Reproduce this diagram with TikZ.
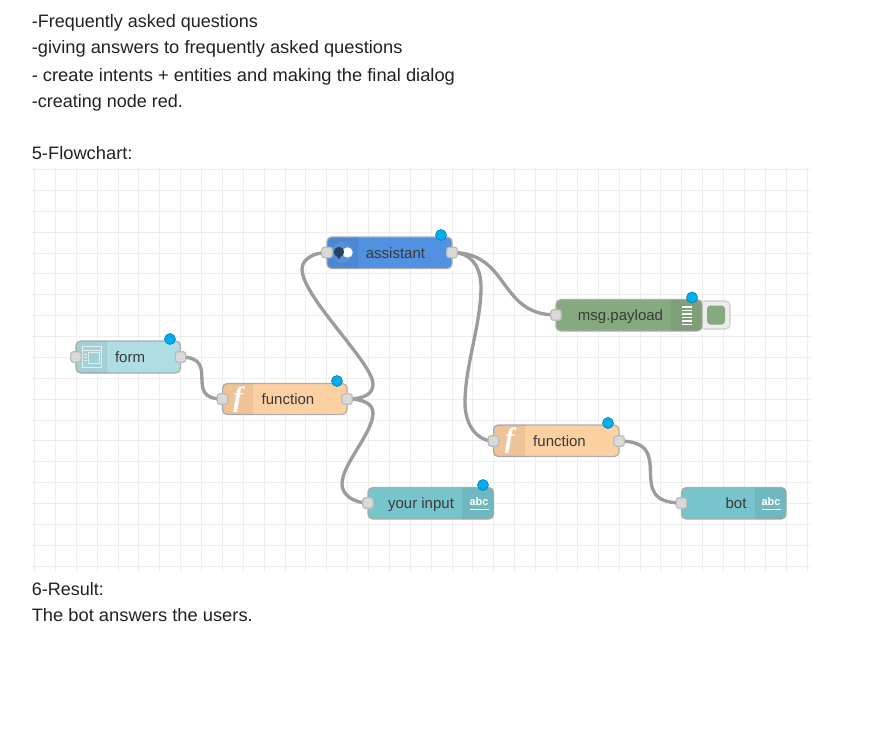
\documentclass[tikz,border=0pt]{standalone}
\usepackage{fontspec}
\setmainfont{Liberation Sans}
\newfontfamily\fglyph{Liberation Serif}
\newfontfamily\prosewide[FakeStretch=1.018]{Liberation Sans}
\usetikzlibrary{backgrounds}
\definecolor{gridc}{HTML}{EDEDED}
\definecolor{wirec}{HTML}{9C9C9C}
\definecolor{edgec}{HTML}{ADADAD}
\definecolor{portedge}{HTML}{BBBBBB}
\definecolor{portc}{HTML}{D9D9D9}
\definecolor{dotc}{HTML}{00AEEF}
\definecolor{formc}{HTML}{AEDDE3}
\definecolor{funcc}{HTML}{FDD0A2}
\definecolor{asstc}{HTML}{5091E2}
\definecolor{debugc}{HTML}{87A980}
\definecolor{textc}{HTML}{77C4CC}
\definecolor{inkc}{HTML}{222222}
\definecolor{lblc}{HTML}{3A3A3A}
\tikzset{
  x=0.75pt,y=-0.75pt,
  prose/.style={anchor=base west,inner sep=0pt,text=inkc,font=\fontsize{13.5pt}{16pt}\selectfont},
  prosew/.style={prose,font=\fontsize{13.5pt}{16pt}\prosewide},
  gridline/.style={draw=gridc,line width=0.8pt},
  wire/.style={draw=wirec,line width=2.5pt,line cap=round},
  nodebox/.style={draw=edgec,line width=0.9pt,rounded corners=3.5pt,inner sep=0pt,outer sep=0pt},
  portbox/.style={draw=portedge,fill=portc,line width=0.9pt,rounded corners=1.8pt,minimum size=7.8pt,inner sep=0pt,outer sep=0pt},
  statusdot/.style={circle,draw=black!25!dotc,fill=dotc,line width=0.5pt,minimum size=8.2pt,inner sep=0pt},
  lbl/.style={inner sep=0pt,text=lblc,font=\fontsize{11.25pt}{13pt}\selectfont},
  tabshade/.style={fill=black,fill opacity=0.06},
  iconw/.style={draw=white,line width=0.75pt},
  ficon/.style={inner sep=0pt,text=white,font=\fontsize{21pt}{22pt}\fglyph\bfseries\itshape},
  abcicon/.style={inner sep=0pt,text=white,font=\fontsize{8.2pt}{9pt}\selectfont\bfseries},
}
\newcommand{\nbox}[6]{\node[nodebox,fill=#6,minimum width={(#4-#2)*0.75pt},minimum height={(#5-#3)*0.75pt}] (#1) at ({(#2+#4)/2},{(#3+#5)/2}) {};}
\newcommand{\tabL}[4]{\fill[tabshade] (#2,#3) [rounded corners=3.5pt] -- (#1,#3) -- (#1,#4) [sharp corners] -- (#2,#4) -- cycle;}
\newcommand{\tabR}[4]{\fill[tabshade] (#1,#3) [rounded corners=3.5pt] -- (#2,#3) -- (#2,#4) [sharp corners] -- (#1,#4) -- cycle;}
\begin{document}
\begin{tikzpicture}
\useasboundingbox (0,0) rectangle (887,735);

% prose
\node[prose] (t1) at (31.5,28) {-Frequently asked questions};
\node[prosew] (t2) at (31.5,54) {-giving answers to frequently asked questions};
\node[prosew] (t3) at (31.5,81) {- create intents + entities and making the final dialog};
\node[prose] (t4) at (31.5,107) {-creating node red.};
\node[prosew] (t5) at (31.5,159) {5-Flowchart:};
\node[prose] (t6) at (31.5,595) {6-Result:};
\node[prosew] (t7) at (31.5,621) {The bot answers the users.};

% nodes
\nbox{form}{76}{341}{180.5}{373}{formc}
\tabL{76}{107}{341}{373}
\node[lbl] (formL) at (130,357) {form};
\draw[white,opacity=.65,line width=.6pt] (82,346.5) rectangle (101,367.5);
\draw[white,opacity=.65,line width=.6pt] (88,352) rectangle (99,363);
\draw[white,opacity=.65,line width=.6pt] (82,350) -- (101,350) (84,354) -- (87,354) (84,357) -- (87,357) (84,360) -- (87,360);

\nbox{fone}{222.5}{383.5}{347}{414.5}{funcc}
\tabL{222.5}{253}{383.5}{414.5}
\node[ficon] (foneI) at (238,399.5) {f};
\node[lbl] (foneL) at (288,399) {function};

\nbox{asst}{327}{237}{452}{268.5}{asstc}
\tabL{327}{358}{237}{268.5}
\fill[white,opacity=.08] (342.5,252.5) circle (10.5);
\fill[white] (347.5,252.5) circle (5.2);
\fill[black!55!asstc] (339,252) circle (5.2);
\fill[black!55!asstc] (336,255) -- (341,255) -- (339,259.5) -- cycle;
\node[lbl] (asstL) at (395.5,253) {assistant};

\node[draw=black!15,line width=1.2pt,fill=gridc,rounded corners=3.5pt,minimum width={30*0.75pt},minimum height={28*0.75pt},inner sep=0pt] (dbtn) at (715,315) {};
\nbox{dbg}{556}{299.5}{702}{331}{debugc}
\tabR{671}{702}{299.5}{331}
\node[nodebox,draw=none,fill=debugc,rounded corners=2.5pt,minimum width={18*0.75pt},minimum height={19*0.75pt}] (dbtnI) at (716,315) {};
\node[lbl] (dbgL) at (620.5,317) {msg.payload};
\foreach \yy in {307,310.5,314,317.5,321,324.5}
  \draw[iconw,line width=.95pt] (682,\yy) -- (692,\yy);

\nbox{ftwo}{493.5}{425}{619}{456.5}{funcc}
\tabL{493.5}{525}{425}{456.5}
\node[ficon] (ftwoI) at (509.5,441) {f};
\node[lbl] (ftwoL) at (559.5,441) {function};

\nbox{inp}{368}{487.5}{493.5}{519}{textc}
\tabR{462}{493.5}{487.5}{519}
\node[lbl] (inpL) at (421,504.5) {your input};
\node[abcicon] (inpI) at (479,502) {abc};
\draw[iconw,line width=1.1pt] (469.5,509.5) -- (488.5,509.5);

\nbox{bot}{681.5}{487.5}{786}{519}{textc}
\tabR{755}{786}{487.5}{519}
\node[lbl] (botL) at (736,503.5) {bot};
\node[abcicon] (botI) at (771,502) {abc};
\draw[iconw,line width=1.1pt] (761.5,509.5) -- (780.5,509.5);

% ports
\node[portbox] (formIn) at (76,357) {};
\node[portbox] (formOut) at (180.5,357) {};
\node[portbox] (foneIn) at (222.5,399) {};
\node[portbox] (foneOut) at (347,399) {};
\node[portbox] (asstIn) at (327,252.5) {};
\node[portbox] (asstOut) at (452,252.5) {};
\node[portbox] (dbgIn) at (556,315) {};
\node[portbox] (ftwoIn) at (493.5,441) {};
\node[portbox] (ftwoOut) at (619,441) {};
\node[portbox] (inpIn) at (368,503) {};
\node[portbox] (botIn) at (681.5,503) {};

% status dots
\node[statusdot] (sForm) at (170,339) {};
\node[statusdot] (sFone) at (337,381) {};
\node[statusdot] (sAsst) at (441,235) {};
\node[statusdot] (sDbg) at (692,297.5) {};
\node[statusdot] (sFtwo) at (608,423) {};
\node[statusdot] (sInp) at (483,485) {};

% page, grid and wires, beneath the nodes
\begin{scope}[on background layer]
\fill[white] (0,0) rectangle (887,735);
\foreach \k in {0,...,37} {
  \pgfmathsetmacro{\gx}{floor(34.5+20.88*\k)+0.5}
  \draw[gridline] (\gx,167) -- (\gx,572);
}
\foreach \k in {0,...,19} {
  \pgfmathsetmacro{\gy}{floor(169.5+20.88*\k)+0.5}
  \draw[gridline] (32,\gy) -- (811,\gy);
}
\draw[wire] (formOut.center) .. controls (222,357) and (182,399) .. (foneIn.center);
\draw[wire] (foneOut.center) .. controls (366,399) and (373,393) .. (373,384)
   .. controls (373,363) and (302,297) .. (302,269)
   .. controls (302,259) and (314,252.5) .. (asstIn.center);
\draw[wire] (foneOut.center) .. controls (364,399) and (373,404) .. (373,413)
   .. controls (373,433) and (342,464) .. (342,484)
   .. controls (342,495) and (354,503) .. (inpIn.center);
\draw[wire] (asstOut.center) .. controls (472,252.5) and (481,268) .. (481,287)
   .. controls (481,325) and (465,365) .. (465,403)
   .. controls (465,425) and (477,441) .. (ftwoIn.center);
\draw[wire] (asstOut.center) .. controls (510,252.5) and (498,315) .. (dbgIn.center);
\draw[wire] (ftwoOut.center) .. controls (680,441) and (621,503) .. (botIn.center);
\end{scope}
\end{tikzpicture}
\end{document}
